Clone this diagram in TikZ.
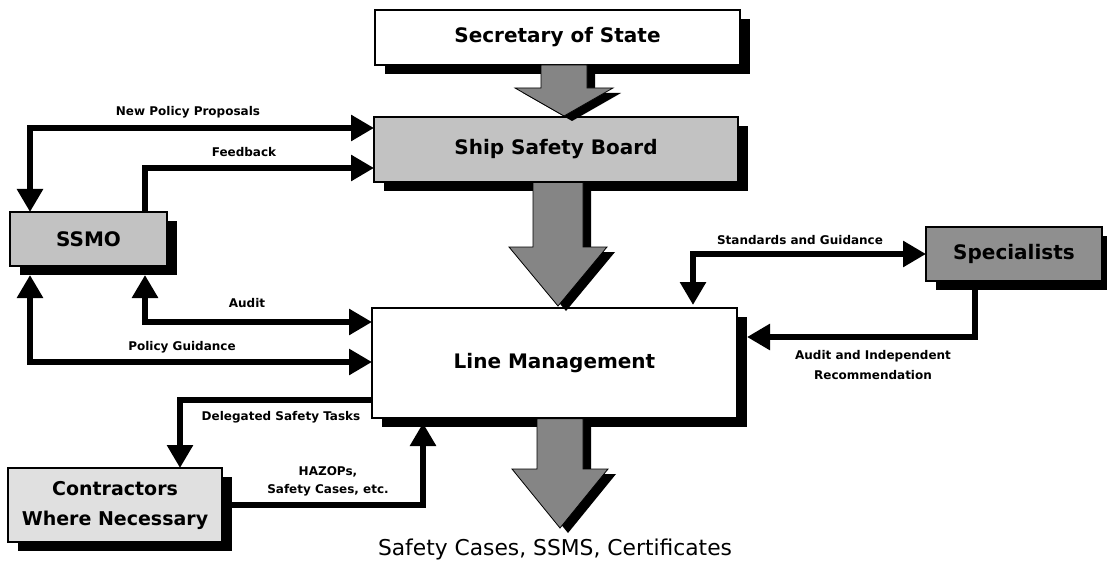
\documentclass[tikz,border=0pt]{standalone}
\usepackage{fontspec}
\setmainfont{DejaVu Sans}
\usetikzlibrary{arrows.meta,shadows}
\definecolor{boardfill}{gray}{0.76}
\definecolor{ssmofill}{gray}{0.76}
\definecolor{contrfill}{gray}{0.88}
\definecolor{specfill}{gray}{0.56}
\definecolor{arrowfill}{gray}{0.52}
\newcommand\fatarrow[6]{% #1 x centre, #2 top, #3 neck, #4 tip, #5 shaft half width, #6 head half width
  \fill[black] (#1-#5+8,#2) -- (#1+#5+8,#2) -- (#1+#5+8,#3+5) -- (#1+#6+8,#3+5) -- (#1+8,#4+5) -- (#1-#6+8,#3+5) -- (#1-#5+8,#3+5) -- cycle;
  \filldraw[fill=arrowfill, draw=black, line width=0.8pt] (#1-#5,#2) -- (#1+#5,#2) -- (#1+#5,#3) -- (#1+#6,#3) -- (#1,#4) -- (#1-#6,#3) -- (#1-#5,#3) -- cycle;
}
\begin{document}
\begin{tikzpicture}[x=1pt,y=-1pt,
  box/.style={draw=black, line width=1.2pt, inner sep=0pt, outer sep=0pt, align=center,
    font=\bfseries\fontsize{20}{30}\selectfont,
    drop shadow={shadow xshift=10pt, shadow yshift=-9pt, fill=black, opacity=1}},
  conn/.style={line width=6pt, draw=black, line join=miter},
  >={Triangle[width=25pt,length=23pt]},
  lbl/.style={inner sep=0pt, align=center, font=\bfseries\fontsize{12}{18}\selectfont},
  lbl2/.style={inner sep=0pt, align=center, font=\bfseries\fontsize{12}{20}\selectfont}]
\useasboundingbox (0,0) rectangle (1107,569);
\fill[white] (0,0) rectangle (1107,569);

% boxes
\node[box, fill=white, minimum width=365pt, minimum height=55pt] (sos) at (557.5,37.5) {Secretary of State};
\node[box, fill=boardfill, minimum width=364pt, minimum height=65pt] (ssb) at (556,149.5) {Ship Safety Board};
\node[box, fill=white, minimum width=365pt, minimum height=110pt] (lm) at (554.5,363) {Line Management};
\node[box, fill=ssmofill, minimum width=157pt, minimum height=54pt] (ssmo) at (88.5,239) {SSMO};
\node[box, fill=specfill, minimum width=176pt, minimum height=54pt] (spec) at (1014,254) {Specialists};
\node[box, fill=contrfill, minimum width=214pt, minimum height=74pt, font=\bfseries\fontsize{19}{30}\selectfont] (contr) at (115,505) {Contractors\\Where Necessary};

% broad arrows
\fatarrow{564}{65}{88}{116}{23}{49}
\fatarrow{558}{182.6}{247}{306}{25}{49}
\fatarrow{560}{418.6}{469}{528}{23}{48}

\node[inner sep=0pt, font=\fontsize{21.8}{24}\selectfont] (out) at (555,549) {Safety Cases, SSMS, Certificates};

% connectors
\draw[conn,<->] ([xshift=20pt]ssmo.north west) |- ([yshift=21.5pt]ssb.west);
\draw[conn,->] ([xshift=-22pt]ssmo.north east) |- ([yshift=-18.5pt]ssb.west);
\draw[conn,<->] ([xshift=-22pt,yshift=-9pt]ssmo.south east) |- ([yshift=41pt]lm.west);
\draw[conn,<->] ([xshift=20pt,yshift=-9pt]ssmo.south west) |- ([yshift=1pt]lm.west);
\draw[conn,->] ([yshift=-37pt]lm.west) -| ([xshift=65pt]contr.north);
\draw[conn,->] (contr.east) -| ([xshift=51pt,yshift=-5pt]lm.south west);
\draw[conn,<->] (spec.west) -| ([xshift=138.5pt,yshift=3pt]lm.north);
\draw[conn,->] ([xshift=-39pt,yshift=-9pt]spec.south) |- ([xshift=10pt,yshift=26pt]lm.east);

% labels
\node[lbl] (lnpp) at (188,112) {New Policy Proposals};
\node[lbl] (lfb) at (244,152) {Feedback};
\node[lbl] (lau) at (247,303) {Audit};
\node[lbl] (lpg) at (182,347) {Policy Guidance};
\node[lbl] (ldst) at (281,417) {Delegated Safety Tasks};
\node[lbl] (lhz) at (328,481) {HAZOPs,\\Safety Cases, etc.};
\node[lbl] (lsg) at (800,240) {Standards and Guidance};
\node[lbl2] (laud) at (873,365) {Audit and Independent\\Recommendation};
\end{tikzpicture}
\end{document}
